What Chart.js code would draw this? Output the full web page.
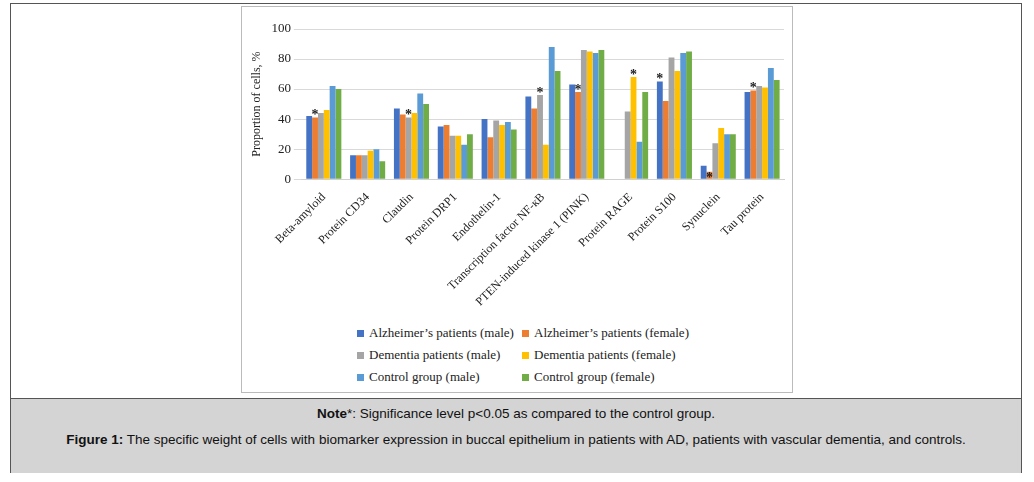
<!DOCTYPE html>
<html><head><meta charset="utf-8">
<script src="https://cdn.jsdelivr.net/npm/chart.js@4"></script>
<style>
body{margin:0;background:#fff;font-family:"Liberation Serif",serif;}
#frame{position:absolute;left:10px;top:3px;width:1010px;height:468px;border:1px solid #555;}
#box{position:absolute;left:230px;top:2px;width:550px;height:385px;border:1px solid #bbb;}
#wrap{position:absolute;left:0;top:0;width:550px;height:305px;}
#legend{position:absolute;left:115px;top:318px;font-size:13px;color:#222;display:grid;grid-template-columns:165px 175px;row-gap:6px;}
#legend span.b{display:inline-block;width:7px;height:7px;margin-right:5px;}
#cap{position:absolute;left:0;top:394px;width:1010px;height:74px;background:#d4d4d4;border-top:1px solid #555;font-family:"Liberation Sans",sans-serif;font-size:13.5px;color:#111;text-align:center;}
</style></head><body>
<div id="frame">
<div id="box"><div id="wrap"><canvas id="c"></canvas></div><div id="legend"></div></div>
<div id="cap"><div style="margin-top:7px"><b>Note</b>*: Significance level p&lt;0.05 as compared to the control group.</div>
<div style="margin-top:11px;padding:0 30px"><b>Figure 1:</b> The specific weight of cells with biomarker expression in buccal epithelium in patients with AD, patients with vascular dementia, and controls.</div></div>
</div>
<script>
const categories = ['Beta-amyloid','Protein CD34','Claudin','Protein DRP1','Endothelin-1','Transcription factor NF-кB','PTEN-induced kinase 1 (PINK)','Protein RAGE','Protein S100','Synuclein','Tau protein'];
const seriesNames = ['Alzheimer’s patients (male)','Alzheimer’s patients (female)','Dementia patients (male)','Dementia patients (female)','Control group (male)','Control group (female)'];
const colors = ['#4472c4','#ed7d31','#a5a5a5','#ffc000','#5b9bd5','#70ad47'];
const adMale     = [42,16,47,35,40,55,63,0,65,9,58];
const adFemale   = [41,16,43,36,28,47,58,0,52,5,59];
const demMale    = [44,16,41,29,39,56,86,45,81,24,62];
const demFemale  = [46,19,44,29,36,23,85,68,72,34,61];
const ctrlMale   = [62,20,57,23,38,88,84,25,84,30,74];
const ctrlFemale = [60,12,50,30,33,72,86,58,85,30,66];
// significance marks: [category index, series index, below]
const stars = [[0,1,0],[2,2,0],[5,2,0],[6,1,0],[7,3,0],[8,0,0],[9,1,1],[10,1,0]];

const allSeries = [adMale,adFemale,demMale,demFemale,ctrlMale,ctrlFemale];
const leg = document.getElementById('legend');
seriesNames.forEach((n,i)=>{leg.innerHTML += `<div><span class="b" style="background:${colors[i]}"></span>${n}</div>`;});

const starPlugin = {
  id:'stars',
  afterDatasetsDraw(chart){
    const ctx = chart.ctx;
    ctx.save();
    ctx.fillStyle='#222'; ctx.font='bold 14px "Liberation Serif"'; ctx.textAlign='center';
    stars.forEach(([ci,si,below])=>{
      const el = chart.getDatasetMeta(si).data[ci];
      ctx.textBaseline = below ? 'top' : 'middle';
      ctx.fillText('*', el.x, below ? el.y : el.y - 2);
    });
    ctx.restore();
  }
};

new Chart(document.getElementById('c'),{
  type:'bar',
  data:{labels:categories,datasets:allSeries.map((d,i)=>({label:seriesNames[i],data:d,backgroundColor:colors[i],categoryPercentage:0.8,barPercentage:1}))},
  options:{responsive:true,maintainAspectRatio:false,animation:false,
    layout:{padding:{top:22,right:8,left:4}},
    plugins:{legend:{display:false},tooltip:{enabled:false}},
    scales:{
      x:{grid:{display:false},border:{color:'#d0d0d0'},ticks:{color:'#222',maxRotation:45,minRotation:45,font:{family:'Liberation Serif',size:12}}},
      y:{min:0,max:100,ticks:{stepSize:10,color:'#222',font:{family:'Liberation Serif',size:13}},grid:{color:'#d9d9d9'},border:{display:false},
        title:{display:true,text:'Proportion of cells, %',color:'#222',font:{family:'Liberation Serif',size:12}}}
    }},
  plugins:[starPlugin]
});
</script>
</body></html>
